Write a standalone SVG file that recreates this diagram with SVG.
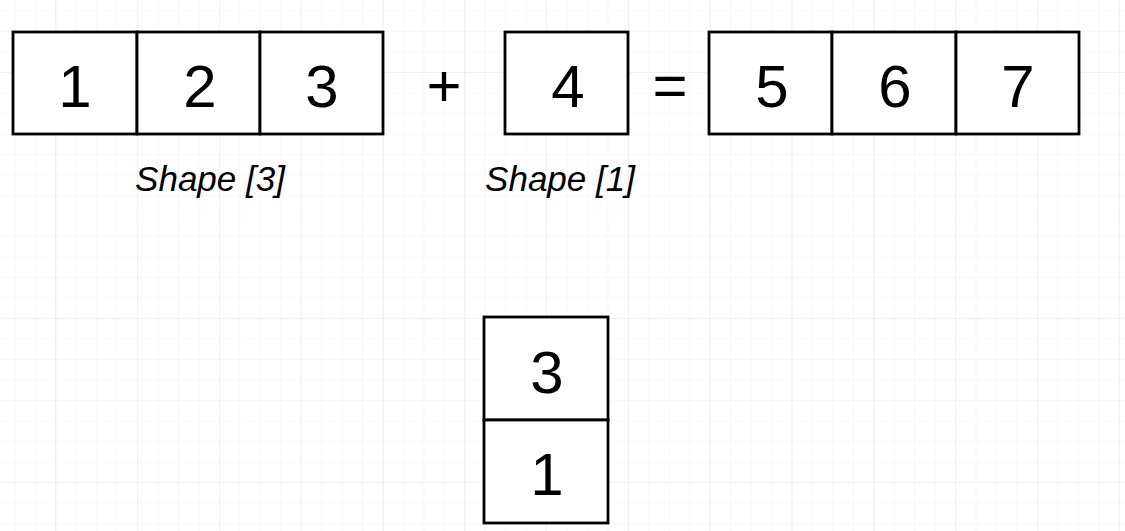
<svg xmlns="http://www.w3.org/2000/svg" width="1125" height="531" viewBox="0 0 1125 531">
  <defs>
    <pattern id="minor" patternUnits="userSpaceOnUse" x="14.4" y="10.5" width="20.45" height="20.5">
      <path d="M0 0 V20.5 M0 0 H20.45" fill="none" stroke="#f1f1f6" stroke-width="1"/>
    </pattern>
    <pattern id="major" patternUnits="userSpaceOnUse" x="55.3" y="72" width="81.8" height="82">
      <path d="M0 0 V82 M0 0 H81.8" fill="none" stroke="#e8e8f0" stroke-width="1.2"/>
    </pattern>
  </defs>
  <style>
    .cell { fill: #ffffff; stroke: #000000; stroke-width: 2.8; }
    .num { font-family: "Liberation Sans", Arial, sans-serif; font-size: 60px; fill: #000000; text-anchor: middle; }
    .lbl { font-family: "Liberation Sans", Arial, sans-serif; font-size: 35px; font-style: italic; fill: #000000; text-anchor: middle; }
  </style>
  <rect width="1125" height="531" fill="#ffffff"/>
  <rect width="1125" height="531" fill="url(#minor)"/>
  <rect width="1125" height="531" fill="url(#major)"/>

  <g id="array-a">
    <rect class="cell" x="13" y="32" width="124" height="102"/>
    <rect class="cell" x="137" y="32" width="123" height="102"/>
    <rect class="cell" x="260" y="32" width="123" height="102"/>
    <text class="num" x="75" y="107">1</text>
    <text class="num" x="200" y="107">2</text>
    <text class="num" x="322" y="107">3</text>
  </g>
  <g id="label-a">
    <text class="lbl" x="210" y="191">Shape [3]</text>
  </g>

  <g id="plus">
    <text class="num" x="444" y="106">+</text>
  </g>

  <g id="array-b">
    <rect class="cell" x="505" y="32" width="123" height="102"/>
    <text class="num" x="568" y="107">4</text>
  </g>
  <g id="label-b">
    <text class="lbl" x="560" y="191">Shape [1]</text>
  </g>

  <g id="equals">
    <text class="num" x="670" y="106">=</text>
  </g>

  <g id="array-c">
    <rect class="cell" x="709" y="32" width="123" height="102"/>
    <rect class="cell" x="832" y="32" width="124" height="102"/>
    <rect class="cell" x="956" y="32" width="123" height="102"/>
    <text class="num" x="772" y="107">5</text>
    <text class="num" x="895" y="107">6</text>
    <text class="num" x="1018" y="107">7</text>
  </g>

  <g id="shape-stack">
    <rect class="cell" x="484" y="317" width="124" height="103"/>
    <rect class="cell" x="484" y="420" width="124" height="103"/>
    <text class="num" x="547" y="393">3</text>
    <text class="num" x="547" y="495">1</text>
  </g>

  <g id="connectors"></g>
</svg>
